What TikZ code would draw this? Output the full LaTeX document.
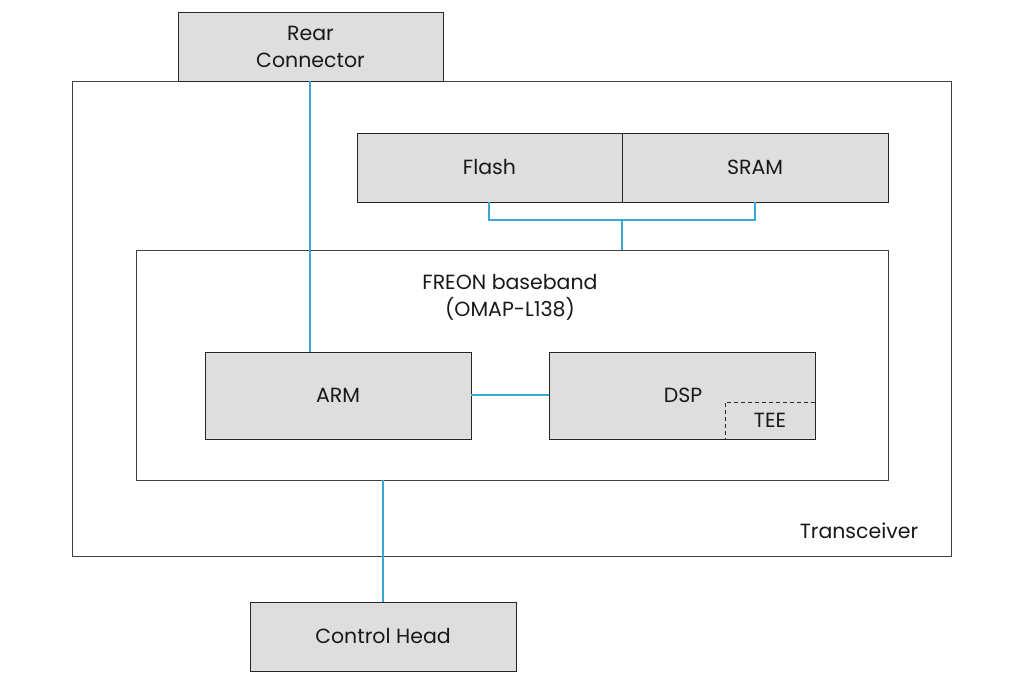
\documentclass[tikz,border=0pt]{standalone}
\usepackage{fontspec}
\setmainfont{Poppins}
\begin{document}
\begin{tikzpicture}[x=1pt,y=-1pt,
  graybox/.style={draw=black!85,line width=1pt,fill=black!13},
  whitebox/.style={draw=black!75,line width=1pt,fill=white},
  lbl/.style={font=\fontsize{20.5}{27}\selectfont,text=black!90,align=center},
  bus/.style={draw={rgb,255:red,58;green,168;blue,212},line width=1.3pt}]
\useasboundingbox (0,0) rectangle (1024,691);
% transceiver
\draw[whitebox] (72,81) rectangle (951,556);
\node[lbl] (trx) at (859,531) {Transceiver};
% rear connector
\draw[graybox] (178,12) rectangle (443,81);
\node[lbl] (rear) at (310.5,46.5) {Rear\\Connector};
\coordinate (rearb) at (310,81);
% flash / sram
\draw[graybox] (357,133) rectangle (622,202);
\draw[graybox] (622,133) rectangle (888,202);
\node[lbl] (flash) at (489.5,167.5) {Flash};
\node[lbl] (sram) at (755,167.5) {SRAM};
\coordinate (flashb) at (489,202);
\coordinate (sramb) at (755,202);
\coordinate (busmid) at (622,220);
% baseband
\draw[whitebox] (136,250) rectangle (888,480);
\node[lbl] (bb) at (510,297) {FREON baseband\\(OMAP-L138)};
\coordinate (bbtop) at (622,250);
\coordinate (bbbot) at (383,480);
% ARM, DSP
\draw[graybox] (205,352) rectangle (471,439);
\node[lbl] (arm) at (338,395) {ARM};
\coordinate (armt) at (310,352);
\coordinate (armr) at (471,395);
\draw[graybox] (549,352) rectangle (815,439);
\node[lbl] (dsp) at (683,395) {DSP};
\coordinate (dspl) at (549,395);
\draw[line width=1pt,black!85,dash pattern=on 4pt off 3pt] (815,402) -- (725,402) -- (725,439);
\node[lbl] (tee) at (770,420) {TEE};
% control head
\draw[graybox] (250,602) rectangle (516,671);
\node[lbl] (ch) at (383,636) {Control Head};
\coordinate (cht) at (383,602);
% connectors
\draw[bus] (rearb) -- (armt);
\draw[bus] (flashb) |- (busmid) -| (sramb);
\draw[bus] (busmid) -- (bbtop);
\draw[bus] (armr) -- (dspl);
\draw[bus] (bbbot) -- (cht);
\end{tikzpicture}
\end{document}
